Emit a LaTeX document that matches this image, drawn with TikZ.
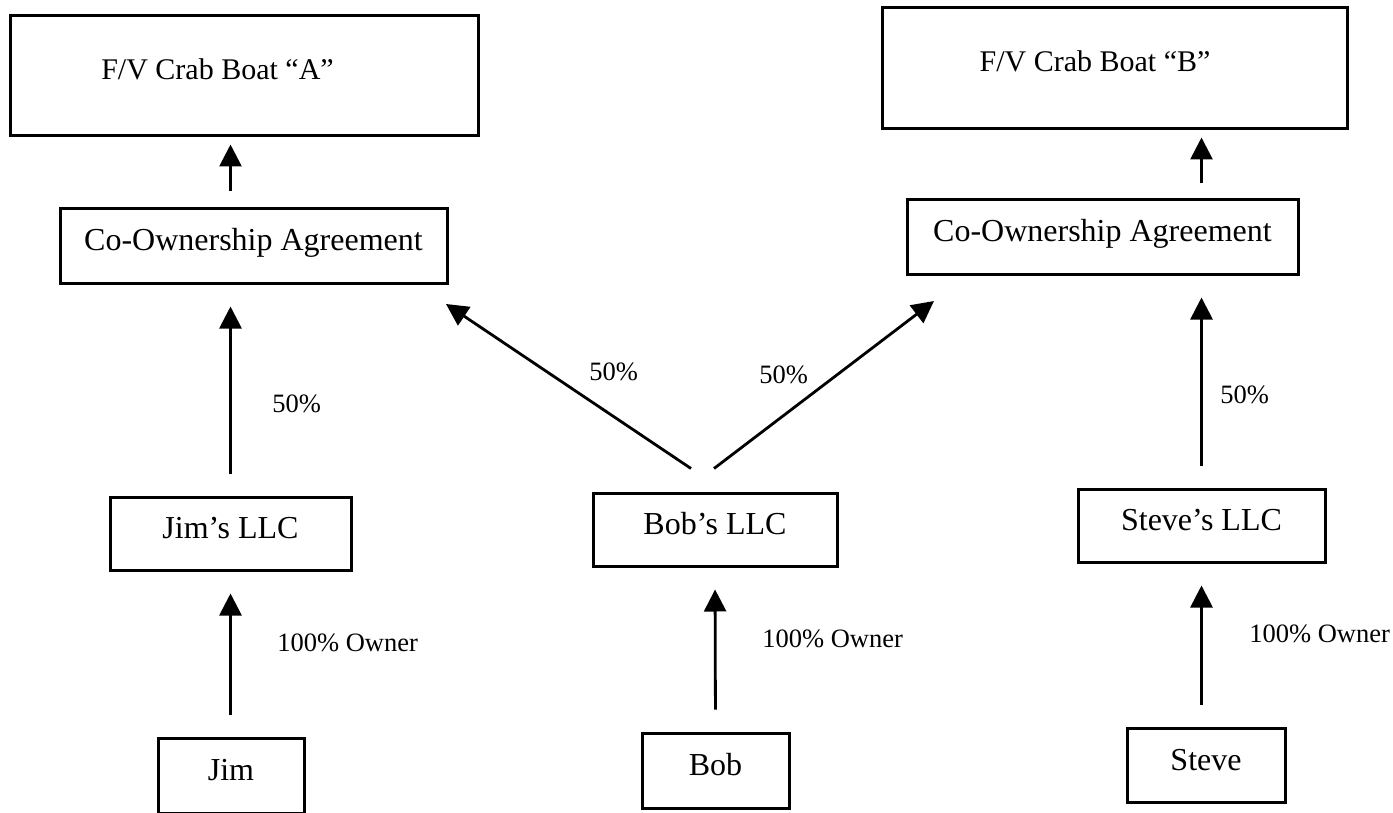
\documentclass[tikz,border=0pt]{standalone}
\usepackage{fontspec}
\setmainfont{Liberation Serif}
\usetikzlibrary{arrows.meta}

\tikzset{
  box/.style={draw, line width=1.5pt, inner sep=0pt, text height=11pt, text depth=6pt,
    font=\fontsize{16}{19}\selectfont},
  boat/.style={box, text depth=7.5pt, font=\fontsize{15}{18}\selectfont},
  pct/.style={anchor=base west, inner sep=0pt, font=\fontsize{13.25}{16}\selectfont},
  arr/.style={line width=1.4pt, -{Triangle[length=11pt,width=11pt]}}
}

\begin{document}
\begin{tikzpicture}[x=0.5pt,y=-0.5pt]
    \useasboundingbox (0,0) rectangle (1393,813);
    \node[boat, minimum width=234pt, minimum height=60pt] (boatA) at (244,76) {F/V Crab Boat “A”\hspace*{26.5pt}};
    \node[boat, minimum width=232.5pt, minimum height=60.5pt] (boatB) at (1114.5,68.5) {F/V Crab Boat “B”\hspace*{19.5pt}};
    \node[box, minimum width=193.5pt, minimum height=37.5pt] (coA) at (253.5,245.5) {Co-Ownership Agreement};
    \node[box, minimum width=195.5pt, minimum height=37pt] (coB) at (1102.5,237) {Co-Ownership Agreement};
    \node[box, minimum width=120.5pt, minimum height=36.5pt] (jllc) at (230.5,533.5) {Jim’s LLC};
    \node[box, minimum width=122pt, minimum height=36.5pt] (bllc) at (715,529.5) {Bob’s LLC};
    \node[box, minimum width=123.5pt, minimum height=36.5pt] (sllc) at (1201.5,525.5) {Steve’s LLC};
    \node[box, minimum width=73pt, minimum height=37.5pt] (jim) at (231,775.5) {Jim};
    \node[box, minimum width=73.5pt, minimum height=37.5pt] (bob) at (715.5,770.5) {Bob};
    \node[box, minimum width=79pt, minimum height=37pt] (steve) at (1206,765) {Steve};
    \coordinate (tipL) at (446,304);
    \coordinate (tipR) at (934,301);

    \draw[arr, shorten <=7.5pt, shorten >=3.5pt] (jllc.north |- coA.north) -- (jllc.north |- boatA.south);
    \draw[arr, shorten <=7.5pt, shorten >=3.5pt] (sllc.north |- coB.north) -- (sllc.north |- boatB.south);
    \draw[arr, shorten <=11pt, shorten >=11pt] (jllc.north) -- (jllc.north |- coA.south);
    \draw[arr, shorten <=11pt, shorten >=11pt] (sllc.north) -- (sllc.north |- coB.south);
    \draw[arr] ([xshift=-12pt,yshift=11.5pt]bllc.north) -- (tipL);
    \draw[arr] ([xshift=-0.5pt,yshift=11.5pt]bllc.north) -- (tipR);
    \draw[arr, shorten <=11pt, shorten >=11pt] (jim.north -| jllc.south) -- (jllc.south);
    \draw[arr, shorten <=11pt, shorten >=11pt] (bob.north) -- (bllc.south);
    \draw[arr, shorten <=11pt, shorten >=11pt] (steve.north -| sllc.south) -- (sllc.south);

    \node[pct] (pctJ) at (272,412) {50\%};
    \node[pct] (pctBL) at (589,380) {50\%};
    \node[pct] (pctBR) at (759,383) {50\%};
    \node[pct] (pctS) at (1220,403) {50\%};
    \node[pct] (ownJ) at (277,651) {100\% Owner};
    \node[pct] (ownB) at (762,647) {100\% Owner};
    \node[pct] (ownS) at (1249,642) {100\% Owner};
\end{tikzpicture}
\end{document}
